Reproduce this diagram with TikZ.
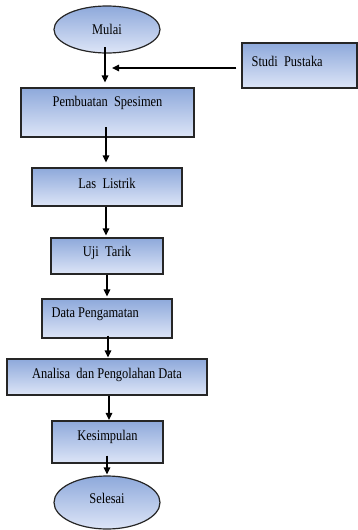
\documentclass[tikz,border=0pt]{standalone}
\usepackage{fontspec}
\setmainfont{Liberation Serif}[FakeStretch=0.84]
\usetikzlibrary{arrows.meta,shapes.geometric}
\definecolor{topc}{HTML}{8EA9DB}
\definecolor{botc}{HTML}{DDE5F7}
\tikzset{
  box/.style={draw=black!85, line width=1.2pt, top color=topc, bottom color=botc, inner sep=0pt, rectangle},
  oval/.style={box, ellipse},
  lbl/.style={font=\fontsize{14.8}{16}\selectfont, inner sep=0pt, text=black},
  arr/.style={line width=1.4pt, -{Triangle[length=7pt,width=6.5pt]}},
}
\begin{document}
\begin{tikzpicture}[x=1pt,y=-1pt]
\useasboundingbox (0,0) rectangle (358,530);
\fill[white] (0,0) rectangle (358,530);

\node[oval, minimum width=106pt, minimum height=47pt, label={[lbl]center:Mulai}] (mulai) at (107,29.5) {};
\node[box, minimum width=115pt, minimum height=45pt, label={[lbl,anchor=west,xshift=10pt,yshift=4.5pt]west:Studi\ \ Pustaka}] (studi) at (299.5,65.5) {};
\node[box, minimum width=173pt, minimum height=49pt, label={[lbl,yshift=9.5pt]center:Pembuatan\ \ Spesimen}] (b1) at (107.5,112.5) {};
\node[box, minimum width=150pt, minimum height=38pt, label={[lbl,yshift=4pt]center:Las\ \ Listrik}] (b2) at (107,187) {};
\node[box, minimum width=112pt, minimum height=36pt, label={[lbl,yshift=3pt]center:Uji\ \ Tarik}] (b3) at (107,256) {};
\node[box, minimum width=130pt, minimum height=39pt, label={[lbl,anchor=west,xshift=10pt,yshift=4.5pt]west:Data Pengamatan}] (b4) at (107,318.5) {};
\node[box, minimum width=200pt, minimum height=36pt, label={[lbl,yshift=2pt]center:Analisa\ \ dan Pengolahan Data}] (b5) at (107,377) {};
\node[box, minimum width=111pt, minimum height=42pt, label={[lbl,yshift=5pt]center:Kesimpulan}] (b6) at (107.5,442) {};
\node[oval, minimum width=106pt, minimum height=53pt, label={[lbl,yshift=4pt]center:Selesai}] (selesai) at (107,502.5) {};

\coordinate (j) at (112,68);

\draw[arr] ([xshift=-2pt,yshift=-17.5pt]mulai.center) -- ([xshift=-2.5pt,yshift=5pt]b1.north);
\draw[arr] ([xshift=-5pt,yshift=-2.5pt]studi.west) -- (j);
\draw[arr] ([xshift=-1.5pt,yshift=-14.5pt]b1.center) -- ([xshift=-1pt,yshift=5pt]b2.north);
\draw[arr] ([xshift=-1pt]b2.south) -- ([xshift=-1pt,yshift=2pt]b3.north);
\draw[arr] (b3.south) -- ([yshift=2pt]b4.north);
\draw[arr] ([xshift=1pt,yshift=3pt]b4.south) -- ([xshift=1pt,yshift=1pt]b5.north);
\draw[arr] ([xshift=2pt]b5.south) -- ([xshift=1.5pt,yshift=0.5pt]b6.north);
\draw[arr] ([xshift=-0.5pt,yshift=8pt]b6.south) -- ([yshift=1pt]selesai.north);
\end{tikzpicture}
\end{document}
